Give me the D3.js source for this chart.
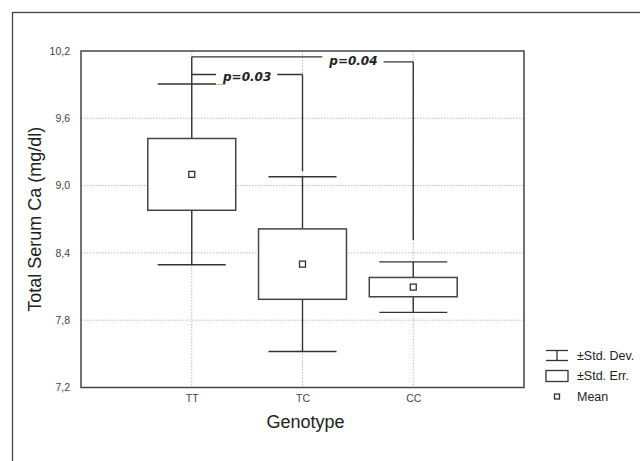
<!DOCTYPE html>
<html>
<head>
<meta charset="utf-8">
<script src="https://cdn.jsdelivr.net/npm/d3@7"></script>
<style>
  body { margin: 0; background: #fff; }
  svg { display: block; }
</style>
</head>
<body>
<svg id="chart" width="640" height="461"></svg>
<script>
// values
var categories = ["TT", "TC", "CC"];
var means = [9.10, 8.30, 8.095];
var stdErr = [0.32, 0.314, 0.086];
var stdDev = [0.806, 0.779, 0.225];
var yTicks = [7.2, 7.8, 8.4, 9.0, 9.6, 10.2];

// significance brackets (levels in mg/dl)
var sigFrom = ["TT", "TT"];
var sigTo = ["CC", "TC"];
var sigLeft = [10.148, 9.99];
var sigRight = [10.103, 9.99];
var sigLegEnd = [8.515, 9.13];
var sigLabel = ["p=0.04", "p=0.03"];
var sigLabelAt = [0.73, 0.5];

var svg = d3.select("#chart");
var plotL = 81, plotR = 524, plotT = 51, plotB = 387.5;
var ink = "#333";
var sans = "Liberation Sans, Arial, sans-serif";

var x = d3.scalePoint().domain(categories).range([plotL, plotR]).padding(1);
var y = d3.scaleLinear().domain([7.2, 10.2]).range([plotB, plotT]);
var step = x.step();
var boxHalf = step * 0.397;
var capHalf = step * 0.307;

// outer frame (only left and top visible)
svg.append("rect")
    .attr("x", 12.5).attr("y", 12.5)
    .attr("width", 700).attr("height", 500)
    .attr("fill", "none").attr("stroke", "#444").attr("stroke-width", 1.3);

// grid
var grid = svg.append("g");
grid.selectAll(".hg").data(yTicks.slice(1, -1)).enter().append("line")
    .attr("x1", plotL).attr("x2", plotR)
    .attr("y1", function (d) { return y(d); }).attr("y2", function (d) { return y(d); })
    .attr("stroke", "#bbb").attr("stroke-dasharray", "1.5,1.5");
grid.selectAll(".vg").data(categories).enter().append("line")
    .attr("y1", plotT).attr("y2", plotB)
    .attr("x1", function (d) { return x(d); }).attr("x2", function (d) { return x(d); })
    .attr("stroke", "#bbb").attr("stroke-dasharray", "1.5,1.5");

// y axis labels
var yAxis = d3.axisLeft(y).tickValues(yTicks).tickSize(0).tickPadding(11)
    .tickFormat(function (d) { return d3.format(".1f")(d).replace(".", ","); });
var ya = svg.append("g").attr("transform", "translate(" + plotL + ",0)").call(yAxis);
ya.select(".domain").remove();
ya.selectAll("text").attr("font-family", sans)
    .attr("font-size", 10.5).attr("fill", "#444");

// x axis labels
var xAxis = d3.axisBottom(x).tickSize(0).tickPadding(7);
var xa = svg.append("g").attr("transform", "translate(0," + plotB + ")").call(xAxis);
xa.select(".domain").remove();
xa.selectAll("text").attr("font-family", sans)
    .attr("font-size", 10.5).attr("fill", "#444");

// axis titles
svg.append("text")
    .attr("transform", "translate(41," + ((plotT + plotB) / 2) + ") rotate(-90)")
    .attr("text-anchor", "middle")
    .attr("font-family", sans)
    .attr("font-size", 18).attr("fill", "#222")
    .text("Total Serum Ca (mg/dl)");
svg.append("text")
    .attr("x", 305.5).attr("y", 428)
    .attr("text-anchor", "middle")
    .attr("font-family", sans)
    .attr("font-size", 18).attr("fill", "#222")
    .text("Genotype");

// whiskers, boxes, means
var marks = svg.append("g").attr("stroke", ink).attr("stroke-width", 1.4).attr("fill", "none");
categories.forEach(function (c, i) {
    var cx = x(c);
    var topEnd = (c === sigFrom[0]) ? y(sigLeft[0]) : y(means[i] + stdDev[i]);
    marks.append("line").attr("x1", cx).attr("x2", cx)
        .attr("y1", topEnd).attr("y2", y(means[i] + stdErr[i]));
    marks.append("line").attr("x1", cx).attr("x2", cx)
        .attr("y1", y(means[i] - stdErr[i])).attr("y2", y(means[i] - stdDev[i]));
    [means[i] + stdDev[i], means[i] - stdDev[i]].forEach(function (v) {
        marks.append("line").attr("x1", cx - capHalf).attr("x2", cx + capHalf)
            .attr("y1", y(v)).attr("y2", y(v));
    });
    marks.append("rect")
        .attr("x", cx - boxHalf).attr("width", boxHalf * 2)
        .attr("y", y(means[i] + stdErr[i]))
        .attr("height", y(means[i] - stdErr[i]) - y(means[i] + stdErr[i]))
        .attr("fill", "#fff").attr("stroke", "#444").attr("stroke-width", 1.5);
    marks.append("rect")
        .attr("x", cx - 3).attr("y", y(means[i]) - 3)
        .attr("width", 6).attr("height", 6)
        .attr("fill", "#fff").attr("stroke", ink).attr("stroke-width", 1.3);
});

// significance brackets
var ann = svg.append("g");
sigLabel.forEach(function (lab, i) {
    var x0 = x(sigFrom[i]), x1 = x(sigTo[i]);
    var tx = x0 + (x1 - x0) * sigLabelAt[i];
    var g = ann.append("g").attr("stroke", ink).attr("stroke-width", 1.4).attr("fill", "none");
    g.append("line").attr("x1", x0).attr("x2", tx).attr("y1", y(sigLeft[i])).attr("y2", y(sigLeft[i]));
    g.append("line").attr("x1", tx).attr("x2", x1).attr("y1", y(sigRight[i])).attr("y2", y(sigRight[i]));
    g.append("line").attr("x1", x1).attr("x2", x1).attr("y1", y(sigRight[i])).attr("y2", y(sigLegEnd[i]));
    var t = ann.append("text")
        .attr("x", tx).attr("y", (y(sigLeft[i]) + y(sigRight[i])) / 2 + 6)
        .attr("text-anchor", "middle")
        .attr("font-family", "DejaVu Sans, sans-serif")
        .attr("font-size", 12).attr("font-weight", "bold").attr("font-style", "italic")
        .attr("fill", "#222").text(lab);
    var bb = t.node().getBBox();
    ann.insert("rect", function () { return t.node(); })
        .attr("x", bb.x - 6).attr("y", bb.y - 1)
        .attr("width", bb.width + 12).attr("height", bb.height + 2)
        .attr("fill", "#fff");
});

// plot frame
svg.append("rect")
    .attr("x", plotL).attr("y", plotT)
    .attr("width", plotR - plotL).attr("height", plotB - plotT)
    .attr("fill", "none").attr("stroke", "#444").attr("stroke-width", 1.5);

// legend
var lg = svg.append("g").attr("transform", "translate(546,0)");
var lgText = ["\u00b1Std. Dev.", "\u00b1Std. Err.", "Mean"];
var lgY = [355.5, 376, 396.5];
var li = lg.append("g").attr("stroke", ink).attr("stroke-width", 1.3).attr("fill", "none");
li.append("line").attr("x1", 0).attr("x2", 22).attr("y1", lgY[0] - 5).attr("y2", lgY[0] - 5);
li.append("line").attr("x1", 0).attr("x2", 22).attr("y1", lgY[0] + 5).attr("y2", lgY[0] + 5);
li.append("line").attr("x1", 11).attr("x2", 11).attr("y1", lgY[0] - 5).attr("y2", lgY[0] + 5);
li.append("rect").attr("x", 0).attr("y", lgY[1] - 5.5).attr("width", 22).attr("height", 11);
li.append("rect").attr("x", 8.5).attr("y", lgY[2] - 2.5).attr("width", 5).attr("height", 5);
lg.selectAll("text.lt").data(lgText).enter().append("text")
    .attr("x", 31).attr("y", function (d, i) { return lgY[i]; })
    .attr("dy", "0.35em")
    .attr("font-family", sans)
    .attr("font-size", 12.5).attr("fill", "#222")
    .text(function (d) { return d; });
</script>
</body>
</html>
